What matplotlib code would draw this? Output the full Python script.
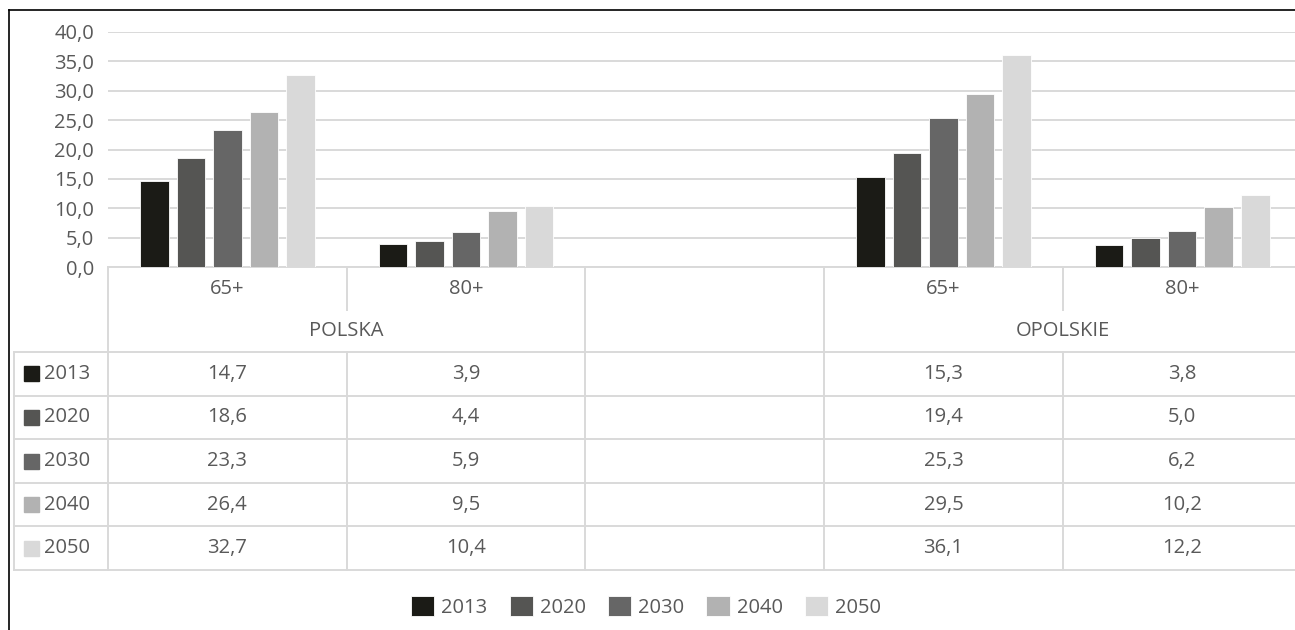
import numpy as np
import matplotlib.pyplot as plt

plt.rcParams['font.family'] = ['Open Sans', 'DejaVu Sans']

# data
groups = ['POLSKA', 'OPOLSKIE']
categories = ['65+', '80+', '', '65+', '80+']
years = ['2013', '2020', '2030', '2040', '2050']
v2013 = [14.7, 3.9, np.nan, 15.3, 3.8]
v2020 = [18.6, 4.4, np.nan, 19.4, 5.0]
v2030 = [23.3, 5.9, np.nan, 25.3, 6.2]
v2040 = [26.4, 9.5, np.nan, 29.5, 10.2]
v2050 = [32.7, 10.4, np.nan, 36.1, 12.2]
series = [v2013, v2020, v2030, v2040, v2050]
colors = ['#1b1b16', '#555553', '#666666', '#b2b2b2', '#d9d9d9']

txt = '#595959'
grid = '#d9d9d9'
fs = 14.5
W, H = 1295, 630

def fmt(v):
    return f'{v:.1f}'.replace('.', ',')

fig = plt.figure(figsize=(W / 100, H / 100), dpi=100)

# plot area in pixels
x0, y0, colw = 108, 267, 238.7
ytop = 32
ncat = len(categories)
ax = fig.add_axes([x0 / W, (H - y0) / H, ncat * colw / W, (y0 - ytop) / H])

x = np.arange(ncat)
step, bw = 0.153, 0.12
bars = []
for i, (yr, vals, c) in enumerate(zip(years, series, colors)):
    b = ax.bar(x + (i - 2) * step, vals, bw, color=c, edgecolor='white',
               linewidth=0.6, label=yr, zorder=3)
    bars.append(b)

ax.set_xlim(-0.5, ncat - 0.5)
ax.set_ylim(0, 40)
ax.set_yticks(np.arange(0, 41, 5))
ax.set_yticklabels([fmt(t) for t in np.arange(0, 41, 5)], color=txt, fontsize=fs)
ax.set_xticks([])
ax.tick_params(axis='y', length=0, pad=10)
ax.grid(axis='y', color=grid, linewidth=1.4, zorder=0)
for s in ['top', 'right', 'left']:
    ax.spines[s].set_visible(False)
ax.spines['bottom'].set_color(grid)
ax.spines['bottom'].set_linewidth(1.4)

# table overlay in pixel coords
tb = fig.add_axes([0, 0, 1, 1], zorder=5)
tb.set_xlim(0, W)
tb.set_ylim(H, 0)
tb.axis('off')
tb.patch.set_alpha(0)

edges = [x0 + k * colw for k in range(ncat + 1)]
h1, h2 = 310, 352
rowh = 43.6
rows = [h2 + j * rowh for j in range(len(years) + 1)]
xl = 14
lw = 1.4

# vertical lines
for k, e in enumerate(edges[:-1]):
    if k in (1, 4):
        tb.plot([e, e], [y0, h1], color=grid, lw=lw)
        tb.plot([e, e], [h2, rows[-1]], color=grid, lw=lw)
    else:
        tb.plot([e, e], [y0, rows[-1]], color=grid, lw=lw)
tb.plot([xl, xl], [h2, rows[-1]], color=grid, lw=lw)
# horizontal lines
for r in rows:
    tb.plot([xl, W], [r, r], color=grid, lw=lw)

# category labels
for k, cat in enumerate(categories):
    cx = (edges[k] + edges[k + 1]) / 2
    tb.text(cx, (y0 + h1) / 2, cat, ha='center', va='center', color=txt, fontsize=fs)
# group labels
tb.text(edges[1], (h1 + h2) / 2, groups[0], ha='center', va='center', color=txt, fontsize=fs)
tb.text(edges[4], (h1 + h2) / 2, groups[1], ha='center', va='center', color=txt, fontsize=fs)

# data rows
for j, (yr, vals, c) in enumerate(zip(years, series, colors)):
    cy = (rows[j] + rows[j + 1]) / 2
    tb.add_patch(plt.Rectangle((24, cy - 7.5), 15, 15, color=c))
    tb.text(44, cy, yr, ha='left', va='center', color=txt, fontsize=fs)
    for k, v in enumerate(vals):
        if np.isnan(v):
            continue
        cx = (edges[k] + edges[k + 1]) / 2
        tb.text(cx, cy, fmt(v), ha='center', va='center', color=txt, fontsize=fs)

# outer frame (top and left visible)
tb.plot([9, W], [10, 10], color='black', lw=1.2)
tb.plot([9, 9], [10, H], color='black', lw=1.2)

leg = fig.legend(handles=bars, labels=years, loc='center', ncol=5,
                 bbox_to_anchor=(646 / W, 1 - 607 / H), frameon=False,
                 fontsize=fs, handlelength=1.15, handleheight=1.15,
                 handletextpad=0.35, columnspacing=1.1, labelcolor=txt)

fig.savefig('out.png', dpi=100)
